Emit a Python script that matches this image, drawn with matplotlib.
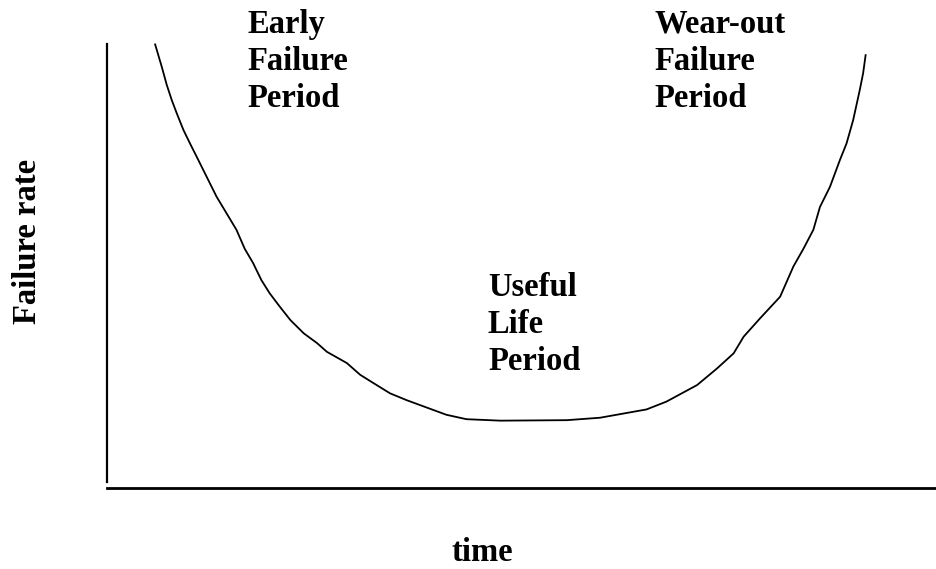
import matplotlib
matplotlib.use("Agg")
from matplotlib import pyplot as plt
from matplotlib.transforms import Bbox, TransformedBbox

plt.rcParams['font.family'] = ['Liberation Serif', 'DejaVu Serif']
plt.rcParams['font.weight'] = 'bold'

# bathtub curve, hand-traced (time and failure rate in arbitrary units)
temps = [5.8, 6.6, 7.2, 7.8, 8.4, 9.2, 10.0, 10.8, 12.0, 13.2, 14.4, 15.6,
         16.6, 17.6, 18.6, 19.6, 20.8, 22.1, 23.7, 25.3, 26.5, 28.9, 30.5,
         32.1, 34.1, 36.1, 39.3, 40.9, 43.3, 47.4, 55.4, 59.4, 65.0, 67.4,
         71.1, 73.5, 75.5, 76.7, 78.7, 81.1, 82.7, 83.9, 85.1, 85.9, 87.1,
         88.3, 89.1, 89.9, 90.7, 91.1, 91.4]
taux = [90.9, 86.3, 82.6, 79.5, 76.8, 73.4, 70.6, 67.9, 63.8, 59.7, 56.3, 52.9,
        49.0, 46.1, 42.6, 39.9, 37.2, 34.4, 31.7, 29.7, 27.9, 25.6, 23.2,
        21.5, 19.4, 18.0, 16.0, 15.0, 14.1, 13.8, 13.9, 14.4, 16.1, 17.7,
        21.1, 24.5, 27.6, 31.0, 34.8, 39.2, 45.4, 49.0, 52.9, 57.6, 61.7,
        67.2, 70.6, 75.4, 81.6, 85.0, 88.7]

periodes = ["Early\nFailure\nPeriod", "Useful\nLife\nPeriod", "Wear-out\nFailure\nPeriod"]
# position of the baseline of each label's last line
pos_periodes = [(16.9, 78.1), (45.9, 24.2), (66.0, 78.1)]

fig = plt.figure(figsize=(9.37, 5.69), dpi=100)
ax = fig.add_axes([107/937, 81/569, 830/937, 488/569])
ax.set_xlim(0, 100)
ax.set_ylim(0, 100)

ax.plot(temps, taux, color='black', lw=1.3)

for s in ['top', 'right']:
    ax.spines[s].set_visible(False)
ax.spines['left'].set_bounds(1.2, 91)
ax.spines['left'].set_linewidth(1.6)
ax.spines['bottom'].set_linewidth(2.0)
ax.set_xticks([])
ax.set_yticks([])

for txt, (x, y) in zip(periodes, pos_periodes):
    t = ax.text(x, y, txt, fontsize=23.5, fontweight='bold', va='baseline',
                ha='left', linespacing=1.25)
    if txt.startswith("Useful"):
        # bottom edge of the last line is cut off
        t.set_clip_box(TransformedBbox(Bbox([[40, 24.8], [80, 60]]), ax.transData))

fig.text(28/937, 1 - 241/569, "Failure rate", fontsize=23.5, fontweight='bold',
         rotation=90, ha='center', va='center')
fig.text(482/937, 8/569, "time", fontsize=23.5, fontweight='bold',
         ha='center', va='baseline')

fig.savefig("out.png", dpi=100)
